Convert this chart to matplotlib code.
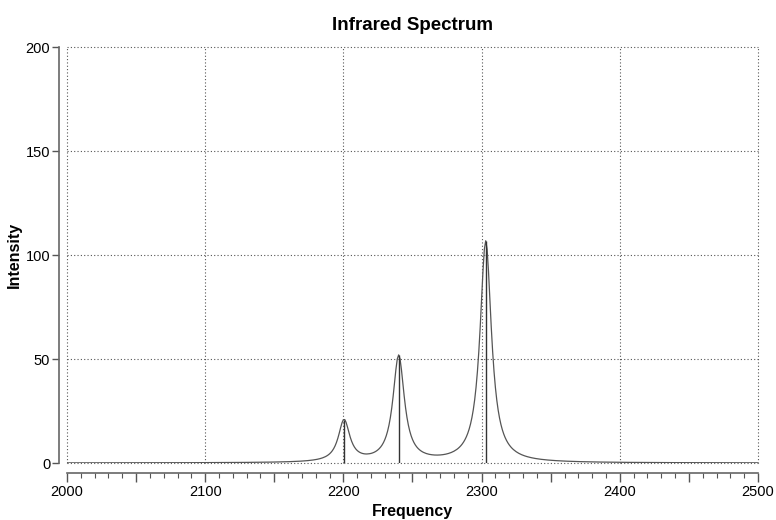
import numpy as np
import matplotlib
matplotlib.use("Agg")
import matplotlib.pyplot as plt
from matplotlib.ticker import MultipleLocator, FuncFormatter

# stick spectrum (frequency, intensity)
freqs = [2200.5, 2240.0, 2303.0]
intens = [20.0, 51.0, 106.5]
hwhm = 5.0  # lorentzian half-width used for the broadened curve

x_ticks = [2000, 2100, 2200, 2300, 2400, 2500]
y_ticks = [0, 50, 100, 150, 200]

plt.rcParams['font.family'] = ['Liberation Sans', 'DejaVu Sans']

grid_x = np.arange(1990, 2510.01, 1.0)
curve = np.zeros_like(grid_x)
for f, i in zip(freqs, intens):
    curve += i * hwhm**2 / ((grid_x - f)**2 + hwhm**2)

fig = plt.figure(figsize=(7.76, 5.2), dpi=100)
ax = fig.add_axes([0.0863, 0.1096, 0.8905, 0.8])

ax.plot(grid_x, curve, color='#555555', lw=0.9)
ax.vlines(freqs, 0, np.interp(freqs, grid_x, curve), color='#333333', lw=1.0)

ax.set_xlim(2000, 2500)
ax.set_ylim(0, 200)

# dotted grid at the labelled ticks
for gx in x_ticks:
    ax.axvline(gx, color='#555555', lw=0.8, ls=(0, (1, 2)), clip_on=False, zorder=0)
for gy in y_ticks:
    ax.axhline(gy, color='#555555', lw=0.8, ls=(0, (1, 2)), clip_on=False, zorder=0)

ax.spines['top'].set_visible(False)
ax.spines['right'].set_visible(False)
ax.spines['left'].set_position(('outward', 6))
ax.spines['bottom'].set_position(('outward', 7))
for s in ('left', 'bottom'):
    ax.spines[s].set_color('#666666')
    ax.spines[s].set_linewidth(1.2)

ax.xaxis.set_major_locator(MultipleLocator(50))
ax.xaxis.set_minor_locator(MultipleLocator(10))
ax.xaxis.set_major_formatter(FuncFormatter(lambda v, p: '%d' % v if v % 100 == 0 else ''))
ax.set_yticks(y_ticks)
ax.tick_params(axis='x', which='major', length=6.5, width=1, color='#555555',
               labelsize=10.5, pad=2)
ax.tick_params(axis='x', which='minor', length=3.6, width=0.8, color='#555555')
ax.tick_params(axis='y', length=5, width=1, color='#555555', labelsize=10.5, pad=1)

ax.set_title('Infrared Spectrum', fontsize=13.5, fontweight='bold', pad=12)
ax.set_xlabel('Frequency', fontsize=11.5, fontweight='bold', labelpad=4)
ax.set_ylabel('Intensity', fontsize=11.5, fontweight='bold', labelpad=3)

fig.savefig('out.png', dpi=100)
